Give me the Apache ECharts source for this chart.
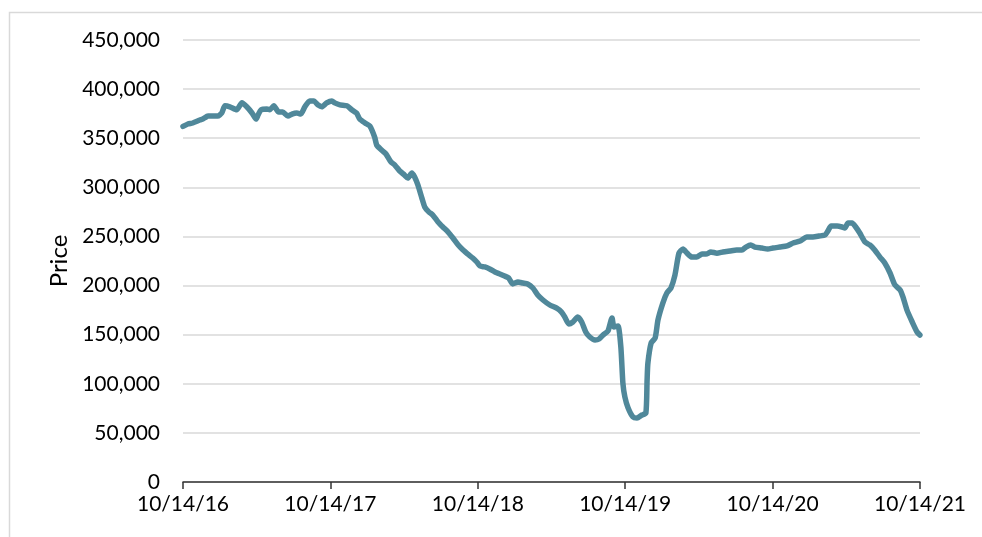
<!DOCTYPE html>
<html>
<head>
<meta charset="utf-8">
<script src="https://cdn.jsdelivr.net/npm/echarts@6/dist/echarts.min.js"></script>
<style>
  html, body { margin: 0; padding: 0; background: #fff; }
  #chart { width: 982px; height: 537px; }
</style>
</head>
<body>
<div id="chart"></div>
<script>
  // weekly-ish price readings
  var startDate = '2016-10-14'
  var dates = [
    '2016-10-14', '2016-10-26', '2016-11-07', '2016-11-25', '2016-12-02', '2016-12-15',
    '2017-01-08', '2017-01-18', '2017-01-26', '2017-02-07', '2017-02-24', '2017-03-09',
    '2017-03-21', '2017-04-03', '2017-04-13', '2017-04-18', '2017-04-25', '2017-05-10',
    '2017-05-17', '2017-05-27', '2017-06-08', '2017-06-18', '2017-07-01', '2017-07-11',
    '2017-07-23', '2017-08-02', '2017-08-12', '2017-08-24', '2017-09-03', '2017-09-13',
    '2017-09-23', '2017-10-05', '2017-10-18', '2017-10-25', '2017-11-07', '2017-11-24',
    '2017-12-06', '2017-12-18', '2017-12-26', '2018-01-08', '2018-01-20', '2018-02-01',
    '2018-02-06', '2018-02-18', '2018-03-01', '2018-03-13', '2018-03-23', '2018-04-04',
    '2018-04-16', '2018-04-24', '2018-05-04', '2018-05-11', '2018-05-19', '2018-05-29',
    '2018-06-05', '2018-06-15', '2018-06-25', '2018-07-08', '2018-07-20', '2018-08-02',
    '2018-08-14', '2018-08-27', '2018-09-08', '2018-09-20', '2018-10-02', '2018-10-12',
    '2018-10-20', '2018-11-01', '2018-11-13', '2018-11-26', '2018-12-08', '2018-12-20',
    '2018-12-30', '2019-01-09', '2019-01-22', '2019-02-03', '2019-02-15', '2019-02-28',
    '2019-03-12', '2019-03-25', '2019-04-11', '2019-04-28', '2019-05-10', '2019-05-18',
    '2019-05-28', '2019-06-07', '2019-06-19', '2019-06-29', '2019-07-09', '2019-07-19',
    '2019-08-01', '2019-08-11', '2019-08-21', '2019-09-02', '2019-09-12', '2019-09-17',
    '2019-09-27', '2019-10-04', '2019-10-09', '2019-10-14', '2019-10-22', '2019-11-03',
    '2019-11-13', '2019-11-25', '2019-12-05', '2019-12-08', '2019-12-10', '2019-12-18',
    '2019-12-28', '2020-01-04', '2020-01-16', '2020-01-26', '2020-02-05', '2020-02-15',
    '2020-02-25', '2020-03-06', '2020-03-16', '2020-03-28', '2020-04-09', '2020-04-22',
    '2020-05-02', '2020-05-14', '2020-05-29', '2020-06-13', '2020-06-30', '2020-07-17',
    '2020-07-30', '2020-08-09', '2020-08-21', '2020-08-31', '2020-09-17', '2020-10-02',
    '2020-10-15', '2020-11-01', '2020-11-19', '2020-12-04', '2020-12-21', '2021-01-07',
    '2021-01-22', '2021-02-06', '2021-02-21', '2021-02-28', '2021-03-08', '2021-03-23',
    '2021-04-04', '2021-04-11', '2021-04-19', '2021-04-29', '2021-05-08', '2021-05-18',
    '2021-05-31', '2021-06-12', '2021-06-24', '2021-07-07', '2021-07-19', '2021-08-01',
    '2021-08-13', '2021-08-26', '2021-09-02', '2021-09-12', '2021-09-25', '2021-10-07',
    '2021-10-14'
  ]
  var prices = [
    362000, 364500, 365500, 368500, 369500, 372500,
    372500, 375700, 383000, 382000, 379000, 386000,
    382000, 375700, 369500, 373600, 378700, 379700,
    379000, 383000, 376700, 376700, 372500, 374600,
    375700, 374600, 382000, 388000, 388000, 384000,
    382000, 386000, 388000, 386000, 384000, 383000,
    379000, 375700, 369500, 365500, 362400, 351000,
    343000, 338000, 334000, 326000, 322700, 316600,
    312500, 309500, 314600, 310500, 302400, 289000,
    280000, 275000, 271800, 264700, 259600, 254500,
    248400, 241300, 236200, 232000, 228000, 224000,
    219900, 218900, 216900, 213800, 211800, 209700,
    207700, 201600, 203600, 202600, 201600, 197500,
    190400, 185300, 180200, 177000, 173000, 168000,
    160900, 162900, 168000, 162900, 152700, 147600,
    144600, 145600, 149700, 153700, 167000, 157800,
    158800, 137400, 100800, 86500, 75300, 66200,
    65200, 68200, 70200, 103800, 121000, 141500,
    146600, 165000, 182200, 192400, 197500, 210700,
    233000, 237200, 233000, 229000, 229000, 232000,
    232000, 234200, 233000, 234200, 235200, 236200,
    236200, 239200, 241300, 239200, 238200, 237200,
    238200, 239200, 240300, 243300, 245400, 249400,
    249400, 250400, 251500, 255500, 260600, 260600,
    259600, 258600, 263700, 263700, 259600, 253500,
    244300, 241300, 236200, 229000, 223000, 212800,
    200600, 195500, 188400, 175000, 162900, 152700,
    149600
  ]
  var priceMin = 0
  var priceMax = 450000
  var priceStep = 50000
  var yearCount = 5

  var DAY = 864e5
  var YEAR = 365.25
  var t0 = Date.parse(startDate)

  function dayOffset(d) {
    return (Date.parse(d) - t0) / DAY
  }
  function fmtDate(off) {
    var dt = new Date(t0 + off * DAY)
    return (dt.getUTCMonth() + 1) + '/' + dt.getUTCDate() + '/' + String(dt.getUTCFullYear()).slice(2)
  }

  var font = 'Lato, "Open Sans", sans-serif'
  var chart = echarts.init(document.getElementById('chart'))
  var option = {
    animation: false,
    backgroundColor: '#fff',
    textStyle: {fontFamily: font},
    graphic: [{
      type: 'rect',
      left: 7, top: 10,
      shape: {width: 974, height: 540},
      style: {fill: 'none', stroke: '#d9d9d9', lineWidth: 1.5},
      silent: true
    }],
    grid: {left: 183, right: 62, top: 40, bottom: 55},
    xAxis: {
      type: 'value',
      min: 0,
      max: yearCount * YEAR,
      interval: YEAR,
      splitLine: {show: false},
      axisLine: {show: true, lineStyle: {color: '#333', width: 1.5}},
      axisTick: {show: true, length: 7, lineStyle: {color: '#333', width: 1.5}},
      axisLabel: {
        formatter: fmtDate,
        margin: 12,
        fontSize: 21,
        color: '#000',
        fontFamily: font
      }
    },
    yAxis: {
      type: 'value',
      min: priceMin,
      max: priceMax,
      interval: priceStep,
      name: 'Price',
      nameLocation: 'middle',
      nameGap: 112,
      nameTextStyle: {fontSize: 24, color: '#000', fontFamily: font},
      axisLine: {show: false},
      axisTick: {show: false},
      splitLine: {lineStyle: {color: '#d9d9d9', width: 1.5}},
      axisLabel: {
        formatter: function (v) { return v.toLocaleString('en-US') },
        margin: 23,
        fontSize: 21,
        color: '#000',
        fontFamily: font
      }
    },
    series: [{
      type: 'line',
      data: dates.map(function (d, i) { return [dayOffset(d), prices[i]] }),
      showSymbol: false,
      smooth: 0.2,
      lineStyle: {color: '#50889a', width: 5.5, cap: 'round', join: 'round'}
    }]
  }
  chart.setOption(option)
</script>
</body>
</html>
